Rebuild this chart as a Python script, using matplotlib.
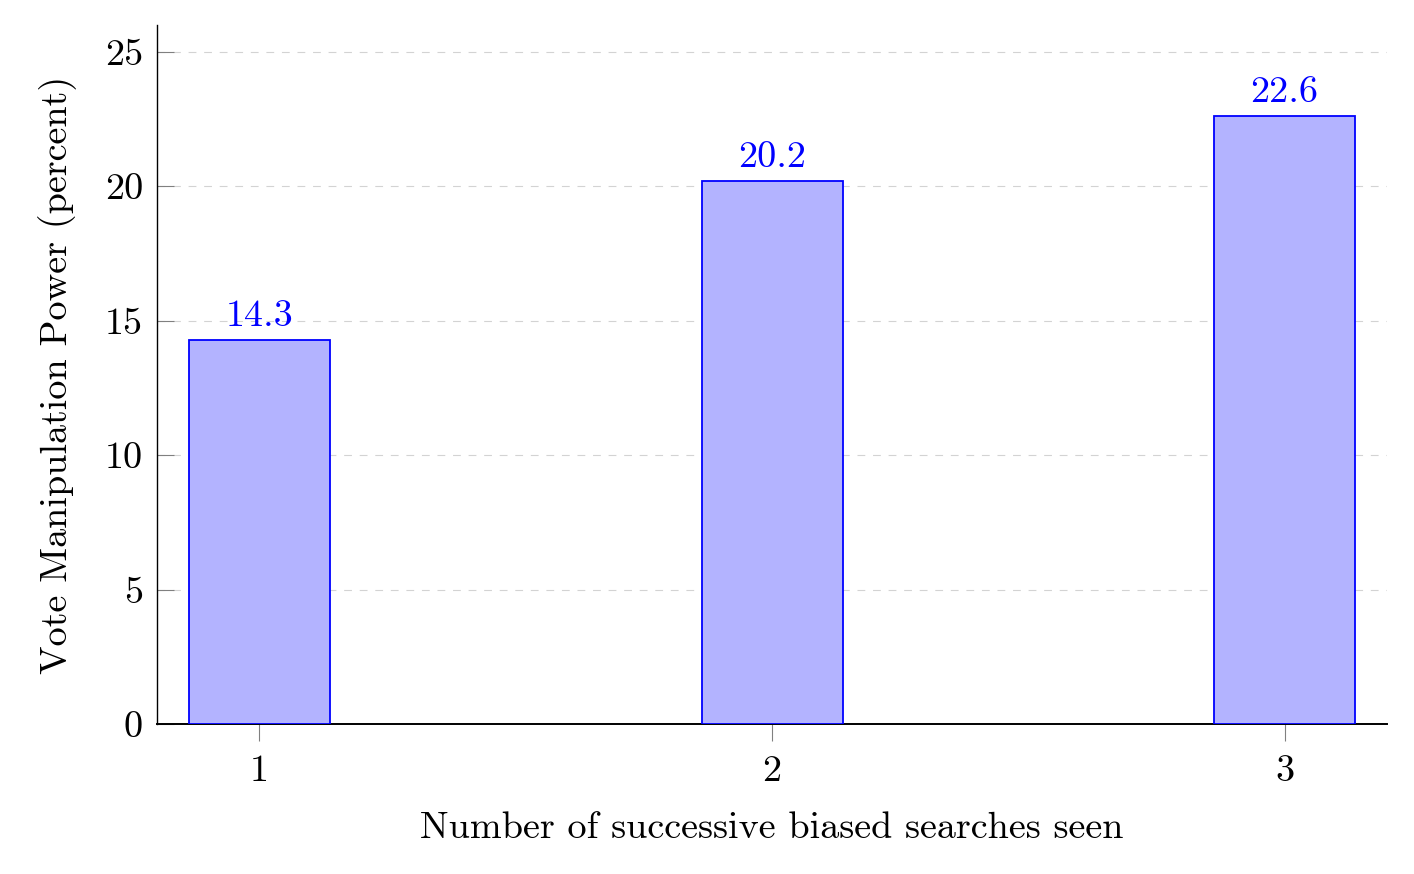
import matplotlib.pyplot as plt
import numpy as np

# data
searches = [1, 2, 3]
power = [14.3, 20.2, 22.6]
tick_labels = ['1', '2', '3']
y_ticks = [0, 5, 10, 15, 20, 25]

plt.rcParams['font.family'] = ['cmr10', 'DejaVu Serif']
plt.rcParams['axes.formatter.use_mathtext'] = True
fs = 27.5

fig = plt.figure(figsize=(14.14, 8.74), dpi=100)
ax = fig.add_axes([0.111, 0.1716, 0.87, 0.7998])

ax.bar(searches, power, width=0.275, color='#b3b3ff', edgecolor='blue',
       linewidth=1.3, zorder=3)
for x, v in zip(searches, power):
    ax.annotate(f'{v}', xy=(x, v), xytext=(0, 5), textcoords='offset points',
                ha='center', va='bottom', color='blue', fontsize=fs)

ax.set_xlim(0.8, 3.2)
ax.set_ylim(0, 26)
ax.set_xticks(searches)
ax.set_xticklabels(tick_labels)
ax.set_yticks(y_ticks)
ax.set_yticklabels([str(t) for t in y_ticks])

ax.yaxis.grid(True, color='#d3d3d3', linestyle=(0, (7, 7)), linewidth=0.8)
ax.set_axisbelow(True)

for side in ['top', 'right']:
    ax.spines[side].set_visible(False)
ax.spines['left'].set_linewidth(1.0)
ax.spines['bottom'].set_linewidth(1.4)

ax.tick_params(axis='y', direction='in', length=12, width=0.8, color='#808080',
               labelsize=fs, pad=10)
ax.tick_params(axis='x', direction='out', length=12, width=0.8, color='#808080',
               labelsize=fs, pad=10)

ax.set_xlabel('Number of successive biased searches seen', fontsize=fs, labelpad=17)
ax.set_ylabel('Vote Manipulation Power (percent)', fontsize=fs, labelpad=20)

fig.savefig('out.png', dpi=100)
